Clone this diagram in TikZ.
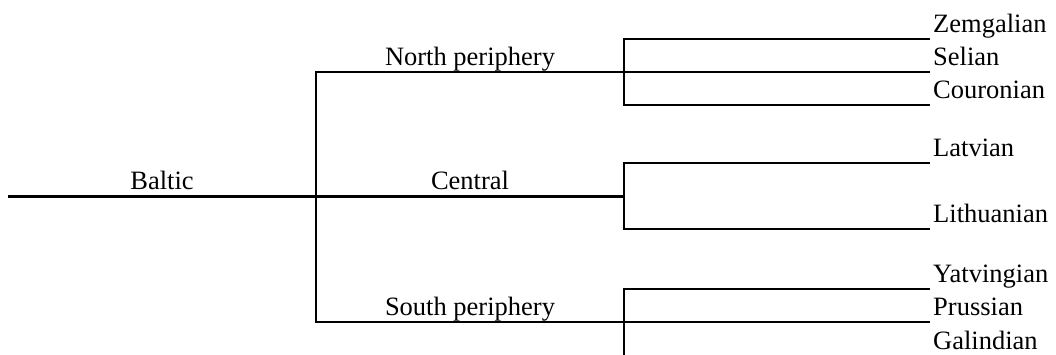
\documentclass[tikz,border=0pt]{standalone}
\usepackage{fontspec}
\setmainfont{Liberation Serif}
\begin{document}
\begin{tikzpicture}[x=1pt,y=-1pt,
  branch/.style={line width=2.1pt},
  lbl/.style={font=\fontsize{26.5}{30}\selectfont, inner sep=0pt, anchor=base, yshift=7pt},
  leaf/.style={lbl, anchor=base west, xshift=3pt}]
\useasboundingbox (0,0) rectangle (1056,354);
\clip (0,0) rectangle (1056,354);
% root and first split
\coordinate (r0) at (8,196.5);
\coordinate (r1) at (316,196.5);
\coordinate (n0) at (316,72);
\coordinate (s0) at (316,322);
\coordinate (n1) at (624,72);
\coordinate (c1) at (624,196.5);
\coordinate (s1) at (624,322);
% north leaves
\coordinate (z0) at (624,39);  \coordinate (z1) at (930,39);
\coordinate (se1) at (930,72);
\coordinate (co0) at (624,105); \coordinate (co1) at (930,105);
% central leaves
\coordinate (la0) at (624,163); \coordinate (la1) at (930,163);
\coordinate (li0) at (624,229); \coordinate (li1) at (930,229);
% south leaves
\coordinate (y0) at (624,289);  \coordinate (y1) at (930,289);
\coordinate (pr1) at (930,322);
\coordinate (g0) at (624,356.2);  \coordinate (g1) at (930,356.2);

\draw[branch] (r0) -- node[lbl] (baltic) {Baltic} (r1);
\draw[branch] (n1) -- (n0) -- (s0) -- (s1);
\path (n0) -- node[lbl] (north) {North periphery} (n1);
\path (s0) -- node[lbl] (south) {South periphery} (s1);
\draw[branch] (r1) -- node[lbl] (central) {Central} (c1);

\draw[branch] (z1) -- (z0) -- (co0) -- (co1);
\draw[branch] (n1) -- (se1);
\node[leaf] (zem) at (z1) {Zemgalian};
\node[leaf] (sel) at (se1) {Selian};
\node[leaf] (cou) at (co1) {Couronian};

\draw[branch] (la1) -- (la0) -- (li0) -- (li1);
\node[leaf] (lat) at (la1) {Latvian};
\node[leaf] (lit) at (li1) {Lithuanian};

\draw[branch] (y1) -- (y0) -- (g0) -- (g1);
\draw[branch] (s1) -- (pr1);
\node[leaf] (yat) at (y1) {Yatvingian};
\node[leaf] (pru) at (pr1) {Prussian};
\node[leaf] (gal) at (g1) {Galindian};
\end{tikzpicture}
\end{document}
